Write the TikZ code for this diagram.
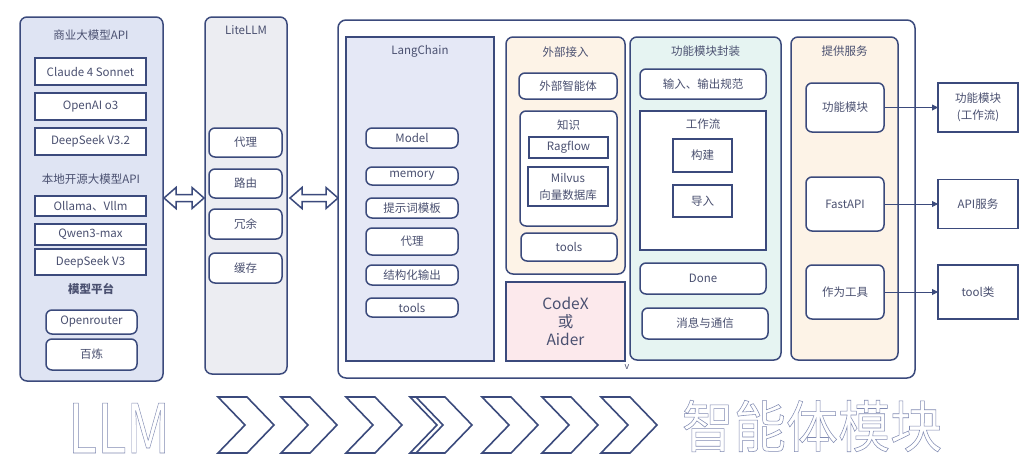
\documentclass[tikz,border=0pt]{standalone}
\usepackage{fontspec}
\setmainfont{Noto Sans CJK SC}
\usetikzlibrary{arrows.meta}
\definecolor{navy}{HTML}{3B4A7C}
\definecolor{txt}{HTML}{4A5070}
\definecolor{lpfill}{HTML}{DFE4F3}
\definecolor{litefill}{HTML}{ECEDF2}
\definecolor{lcfill}{HTML}{E5E8F6}
\definecolor{orfill}{HTML}{FDF3E7}
\definecolor{cyfill}{HTML}{E6F4F2}
\definecolor{pkfill}{HTML}{FCE9EC}
\newcommand\fs{\fontsize{11.5}{13}\selectfont}
\newcommand\outlinetxt[1]{\special{pdf:code q 1 Tr 0.55 w 0.50 0.54 0.70 RG}#1\special{pdf:code Q}}
\newcommand\chevron[1]{\draw[chev] (#1,397) -- ++(29,0) -- ++(27,28) -- ++(-27,28) -- ++(-29,0) -- ++(27,-28) -- cycle;}
\newcommand\dblarr[3]{\draw[dbl] (#1,#3) -- (#1+12,#3-10.5) -- (#1+12,#3-3.5) -- (#2-12,#3-3.5) -- (#2-12,#3-10.5) -- (#2,#3) -- (#2-12,#3+10.5) -- (#2-12,#3+3.5) -- (#1+12,#3+3.5) -- (#1+12,#3+10.5) -- cycle;}
\begin{document}
\begin{tikzpicture}[x=1pt,y=-1pt,
  every node/.style={text=txt, font=\fs, inner sep=0pt, outer sep=0pt, align=center},
  panel/.style={draw=navy, line width=1.5pt, rounded corners=7pt},
  flat/.style={draw=navy, line width=1.5pt},
  sq/.style={draw=navy, line width=1.5pt, fill=white},
  rb/.style={sq, rounded corners=6pt},
  conn/.style={draw=navy, line width=0.9pt, -{Triangle[length=6pt,width=6pt]}},
  dbl/.style={draw=navy, line width=1.5pt, fill=white, line join=miter},
  chev/.style={draw=navy, line width=1.6pt, fill=white, line join=miter}]
\fill[white] (0,0) rectangle (1026,472);
\useasboundingbox (0,0) rectangle (1026,472);

% ---------- left panel ----------
\node[panel, fill=lpfill, minimum width=143, minimum height=364] (lp) at (91.5,199) {};
\node (t1) at (91,35) {商业大模型API};
\node[sq, minimum width=111, minimum height=27] (claude) at (90.5,71.5) {Claude 4 Sonnet};
\node[sq, minimum width=111, minimum height=27] (openai) at (90.5,106.5) {OpenAI o3};
\node[sq, minimum width=111, minimum height=27] (ds32) at (90.5,141.5) {DeepSeek V3.2};
\node (t2) at (91,179) {本地开源大模型API};
\node[sq, minimum width=111, minimum height=20] (ollama) at (90.5,206) {Ollama、Vllm};
\node[sq, minimum width=111, minimum height=21] (qwen) at (90.5,234.5) {Qwen3-max};
\node[sq, minimum width=111, minimum height=26] (ds3) at (90.5,262) {DeepSeek V3};
\node[font=\fs\bfseries] (t3) at (91,289) {模型平台};
\node[rb, minimum width=91, minimum height=24] (openr) at (91.5,322) {Openrouter};
\node[rb, minimum width=91, minimum height=31] (bailian) at (91.5,354.5) {百炼};

% ---------- LiteLLM ----------
\node[panel, fill=litefill, minimum width=82, minimum height=357] (lite) at (246,195.5) {};
\node (t4) at (246,30) {LiteLLM};
\node[rb, minimum width=73, minimum height=29] (l1) at (245.5,142.5) {代理};
\node[rb, minimum width=73, minimum height=29] (l2) at (245.5,183.5) {路由};
\node[rb, minimum width=73, minimum height=30] (l3) at (245.5,224) {冗余};
\node[rb, minimum width=73, minimum height=30] (l4) at (245.5,268) {缓存};

% ---------- double arrows ----------
\dblarr{164}{204}{198}
\dblarr{290}{338}{198}

% ---------- outer box ----------
\node[panel, fill=white, rounded corners=8pt, minimum width=577, minimum height=358] (outer) at (626.5,199) {};

% LangChain
\node[flat, fill=lcfill, minimum width=148, minimum height=324] (lc) at (420,199) {};
\node (t5) at (420,51) {LangChain};
\node[rb, minimum width=92, minimum height=20] (m1) at (412,138) {Model};
\node[rb, minimum width=92, minimum height=18] (m2) at (412,176) {memory};
\node[rb, minimum width=92, minimum height=20] (m3) at (412,208) {提示词模板};
\node[rb, minimum width=92, minimum height=27] (m4) at (412,241.5) {代理};
\node[rb, minimum width=92, minimum height=20] (m5) at (412,275) {结构化输出};
\node[rb, minimum width=92, minimum height=19] (m6) at (412,307.5) {tools};

% 外部接入
\node[panel, fill=orfill, minimum width=119, minimum height=237] (ext) at (565.5,155.5) {};
\node (t6) at (565.5,52) {外部接入};
\node[rb, minimum width=98, minimum height=26] (e1) at (568,86) {外部智能体};
\node[rb, minimum width=97, minimum height=115] (know) at (568.5,168.5) {};
\node (t7) at (568.5,125) {知识};
\node[sq, minimum width=79, minimum height=21] (rag) at (568.5,147.5) {Ragflow};
\node[sq, minimum width=80, minimum height=39, font=\fontsize{11.5}{17}\selectfont] (milvus) at (568,186.5) {Milvus\\向量数据库};
\node[rb, minimum width=96, minimum height=28] (e3) at (569,247) {tools};
\node[flat, fill=pkfill, minimum width=119, minimum height=79, font=\fontsize{15.5}{18}\selectfont] (codex) at (565.5,321.5) {CodeX\\或\\Aider};
\node[font=\fontsize{9}{10}\selectfont] (vv) at (627,367) {v};

% 功能模块封装
\node[panel, fill=cyfill, minimum width=151, minimum height=323] (fm) at (705.5,198.5) {};
\node (t8) at (705.5,51) {功能模块封装};
\node[rb, minimum width=126, minimum height=30] (f1) at (703,84) {输入、输出规范};
\node[sq, minimum width=126, minimum height=139] (wf) at (703,180.5) {};
\node (t9) at (703,124) {工作流};
\node[sq, minimum width=59, minimum height=33] (gj) at (702.5,155.5) {构建};
\node[sq, minimum width=59, minimum height=32] (dr) at (702.5,201) {导入};
\node[rb, minimum width=126, minimum height=31] (done) at (703,278.5) {Done};
\node[rb, minimum width=126, minimum height=31] (msg) at (705,323.5) {消息与通信};

% 提供服务
\node[panel, fill=orfill, minimum width=107, minimum height=323] (svc) at (844.5,198.5) {};
\node (t10) at (844.5,51) {提供服务};
\node[rb, minimum width=78, minimum height=49] (s1) at (845,107.5) {功能模块};
\node[rb, minimum width=78, minimum height=54] (s2) at (845,204) {FastAPI};
\node[rb, minimum width=78, minimum height=54] (s3) at (845,292) {作为工具};

% right outputs
\node[sq, minimum width=80, minimum height=49, font=\fontsize{11.5}{17}\selectfont] (o1) at (978,107.5) {功能模块\\(工作流)};
\node[sq, minimum width=80, minimum height=49] (o2) at (978,204) {API服务};
\node[sq, minimum width=80, minimum height=54] (o3) at (978,292) {tool类};
\draw[conn] (s1.east) -- (o1.west);
\draw[conn] (s2.east) -- (o2.west);
\draw[conn] (s3.east) -- (o3.west);

% ---------- bottom band ----------
\node[anchor=base west, xscale=0.79, font=\fontsize{68}{70}\selectfont] (llm) at (68,453) {\outlinetxt{LLM}};
\chevron{218}
\chevron{281}
\chevron{346}
\chevron{410}
\chevron{416}
\chevron{482}
\chevron{542}
\chevron{601}
\node[xscale=0.93, font=\fontsize{56}{60}\selectfont] (agent) at (812,426) {\outlinetxt{智能体模块}};
\end{tikzpicture}
\end{document}
